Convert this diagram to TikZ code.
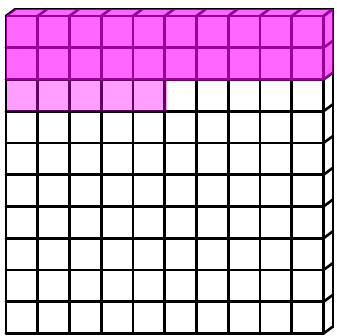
\documentclass[tikz,border=0pt]{standalone}
\usepackage{tikz}
\definecolor{hlMagenta}{HTML}{FF00FF}
\begin{document}
\begin{tikzpicture}[
    x=1pt, y=-1pt,
    gridline/.style={line width=2.6pt, black, line cap=round, line join=round},
    hlDark/.style={fill=hlMagenta, fill opacity=0.6},
    hlLight/.style={fill=hlMagenta, fill opacity=0.38}
]
    \useasboundingbox (0,0) rectangle (337,335);
    \def\cell{31.75}
    % front face grid
    \foreach \i in {0,...,10} {
        \draw[gridline] ({6+\i*\cell},16) -- ({6+\i*\cell},333.5);
        \draw[gridline] (6,{16+\i*\cell}) -- (323.5,{16+\i*\cell});
        % top face and side face slants
        \draw[gridline] ({6+\i*\cell},16) -- ++(9.5,-7);
        \draw[gridline] (323.5,{16+\i*\cell}) -- ++(9.5,-7);
    }
    % back edges
    \draw[gridline] (15.5,9) -- (333,9) -- (333,326.5);
    % highlighted part
    \fill[hlDark] (6,16) -- (15.5,9) -- (333,9) -- (333,73.5) -- (323.5,80.5) -- (6,80.5) -- cycle;
    \fill[hlLight] (7,80.5) rectangle (167,111);
\end{tikzpicture}
\end{document}
